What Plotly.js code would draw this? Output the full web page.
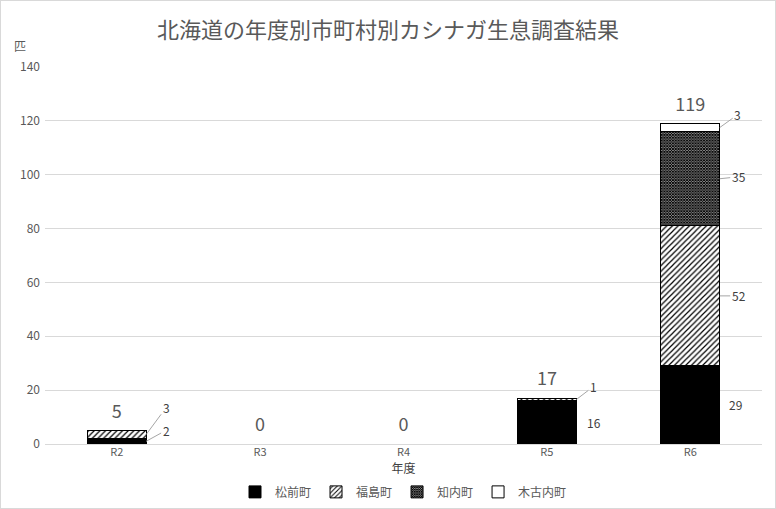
<!DOCTYPE html>
<html>
<head>
<meta charset="utf-8">
<script src="https://cdn.plot.ly/plotly-3.0.1.min.js"></script>
<style>
  body{margin:0;background:#fff}
  #wrap{width:774px;height:507px;border:1px solid #d9d9d9}
  #chart{width:774px;height:507px}
</style>
</head>
<body>
<div id="wrap"><div id="chart"></div></div>
<script>
"use strict"

const years = ["R2","R3","R4","R5","R6"]
const towns = ["松前町","福島町","知内町","木古内町"]
const matsumae = [2,0,0,16,29]
const fukushima = [3,0,0,1,52]
const shiriuchi = [0,0,0,0,35]
const kikonai = [0,0,0,0,3]
const yTicks = [0,20,40,60,80,100,120,140]

const series = [matsumae, fukushima, shiriuchi, kikonai]
const totals = years.map((v,i)=>series.reduce((s,arr)=>s+arr[i],0))

// label placement: [dx, dy, leader] in px from the bar's right edge
const labelPlace = [
  [[20,-11,true],null,null,[9,0,false],[7,0,false]],
  [[20,-27,true],null,null,[17,-13,true],[19,0,true]],
  [null,null,null,null,[19,-2,true]],
  [null,null,null,null,[18,-13,true]],
]

const gray = "#595959"
const font = "Noto Sans CJK JP, Noto Sans, sans-serif"
const halfBar = 0.205

const styles = [
  {color:"#000000", pattern:{shape:""}},
  {color:"#ffffff", pattern:{shape:"/", fgcolor:"#000000", bgcolor:"#ffffff", size:4, solidity:0.3}},
  {color:"#ffffff", pattern:{shape:"x", fgcolor:"#000000", bgcolor:"#ffffff", size:2, solidity:0.8}},
  {color:"#ffffff", pattern:{shape:""}},
]

const bars = series.map((arr,s)=>({
  type:"bar",
  name:towns[s],
  x:years,
  y:arr,
  marker:{
    color:styles[s].color,
    pattern:styles[s].pattern,
    line:{color:"#000000", width:1},
  },
  hoverinfo:"skip",
}))

const totalTrace = {
  type:"scatter",
  mode:"markers+text",
  x:years,
  y:totals,
  marker:{size:12, opacity:0},
  text:totals.map(String),
  textposition:"top center",
  textfont:{size:18, color:gray, family:font},
  showlegend:false,
  hoverinfo:"skip",
  cliponaxis:false,
}

const annotations = []
series.forEach((arr,s)=>{
  arr.forEach((v,c)=>{
    const place = labelPlace[s][c]
    if(!v || !place) return
    const base = series.slice(0,s).reduce((sum,a)=>sum+a[c],0)
    const mid = base + v/2
    const [dx,dy,leader] = place
    if(leader){
      annotations.push({
        x:c+halfBar, y:mid, xref:"x", yref:"y",
        text:String(v), showarrow:true, arrowhead:0, arrowwidth:1,
        arrowcolor:"#a6a6a6", ax:dx, ay:dy, standoff:0,
        font:{size:12, color:"#404040", family:font},
      })
    }else{
      annotations.push({
        x:c+halfBar, y:mid, xref:"x", yref:"y",
        text:String(v), showarrow:false, xanchor:"left", xshift:dx, yshift:dy,
        font:{size:12, color:"#404040", family:font},
      })
    }
  })
})

annotations.push({
  x:-0.035, y:1.058, xref:"paper", yref:"paper",
  xanchor:"center", yanchor:"middle",
  text:"匹", showarrow:false,
  font:{size:12, color:gray, family:font},
})

const layout = {
  width:774,
  height:507,
  margin:{l:44, r:13, t:66, b:64, pad:0, autoexpand:false},
  paper_bgcolor:"#ffffff",
  plot_bgcolor:"#ffffff",
  font:{family:font, color:gray},
  title:{
    text:"北海道の年度別市町村別カシナガ生息調査結果",
    x:0.5, xref:"container", y:0.943, yref:"container", yanchor:"middle",
    font:{size:22, color:gray, family:font},
  },
  barmode:"stack",
  bargap:0.59,
  xaxis:{
    type:"category",
    tickfont:{size:11, color:gray},
    showline:false,
    ticks:"",
    title:{text:"年度", standoff:2, font:{size:12, color:"#404040"}},
  },
  yaxis:{
    range:[0,140],
    tickvals:yTicks,
    tickfont:{size:12, color:gray},
    gridcolor:"#d9d9d9",
    gridwidth:1,
    zeroline:true,
    zerolinecolor:"#d9d9d9",
    ticks:"",
    ticklabelstandoff:4,
  },
  showlegend:true,
  legend:{
    orientation:"h",
    traceorder:"normal",
    x:0.5, xanchor:"center",
    y:-0.127, yanchor:"middle",
    font:{size:12, color:gray},
    itemwidth:30,
    tracegroupgap:0,
  },
  annotations:annotations,
}

Plotly.newPlot("chart", bars.concat([totalTrace]), layout, {displayModeBar:false, staticPlot:true})
</script>
</body>
</html>
